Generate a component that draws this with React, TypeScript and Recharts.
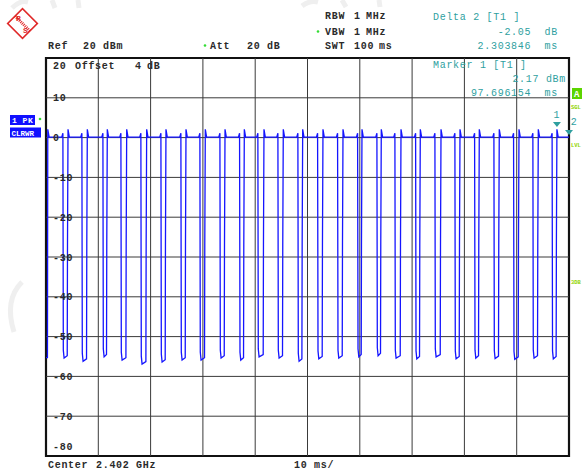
import React from 'react';
import { LineChart, Line, XAxis, YAxis, ReferenceArea, ReferenceDot, ReferenceLine } from 'recharts';

// sweep: 0..100 ms, 10 ms/div ; level: -80..20 dBm
const xTicks = [0, 10, 20, 30, 40, 50, 60, 70, 80, 90, 100];
const yTicks = [20, 10, 0, -10, -20, -30, -40, -50, -60, -70, -80];

// burst gaps (ms)
const dipFall = [3.31, 6.94, 10.96, 14.4, 18.22, 22.05, 25.87, 29.5, 33.33, 37.09, 40.59, 44.42, 48.24,
  52.01, 55.83, 59.66, 63.35, 66.79, 70.75, 74.44, 78.26, 82.03, 85.72, 89.48, 93.17, 96.85];
const dipRise = [4.21, 7.9, 11.72, 15.43, 19.25, 22.94, 26.77, 30.46, 34.23, 37.92, 41.68, 45.37, 49.08,
  52.96, 56.79, 60.42, 64.11, 67.88, 71.57, 75.53, 79.16, 82.85, 86.67, 90.44, 94.13, 97.69];
const dipFloor = [-55.4, -56.2, -55.1, -55.9, -56.9, -56.4, -55.9, -55.9, -55.4, -55.9, -55.1, -55.4, -56.2,
  -55.6, -55.4, -55.1, -54.8, -55.4, -55.6, -55.1, -55.6, -55.4, -55.5, -55.7, -55.4, -55.6];

const startLevel = -55.3;
const topLevel = 0.1;
const preBump = 1.1;
const riseSpike = 2.1;
const riseStep = -27;

const marker1 = { t: 97.696154, v: 2.17 };
const marker2 = { t: 100, v: 0.12 };

const trace: { t: number; v: number }[] = [
  { t: 0, v: startLevel },
  { t: 0.28, v: startLevel },
  { t: 0.34, v: riseSpike },
  { t: 0.6, v: topLevel },
];
dipFall.forEach((f, i) => {
  const r = dipRise[i];
  trace.push({ t: f - 0.3, v: topLevel });
  trace.push({ t: f - 0.08, v: preBump });
  trace.push({ t: f, v: dipFloor[i] + 2 });
  trace.push({ t: f + 0.15, v: dipFloor[i] });
  trace.push({ t: r - 0.15, v: dipFloor[i] + 0.6 });
  trace.push({ t: r - 0.1, v: riseStep });
  trace.push({ t: r, v: riseSpike });
  trace.push({ t: r + 0.25, v: topLevel });
});
trace.push({ t: marker2.t, v: marker2.v });

const W = 582;
const H = 470;
const M = { top: 58, right: 13, bottom: 14, left: 46 };
const TXT = '#2a2a2a';
const TEAL = '#2f9f9f';
const GREEN = '#8fd400';
const BLUE = '#1515ff';
const GRID = '#3a3a3a';
const mono: React.CSSProperties = {
  fontFamily: '"Liberation Mono", "DejaVu Sans Mono", monospace',
  fontSize: 10,
  fontWeight: 700,
  letterSpacing: 0.7,
  whiteSpace: 'pre',
};
const side: React.CSSProperties = { ...mono, fontSize: 5.5, letterSpacing: 0 };

function yLabel(p: any, v: number) {
  let dy = 3.5;
  if (v === 20) dy = 11;
  if (v === -80) dy = -6;
  return (
    <text x={p.cx + 7} y={p.cy + dy} fill={TXT} style={mono}>
      {v < 0 ? '-' + Math.abs(v) : String(v)}
    </text>
  );
}

function MarkerShape(props: any) {
  const { cx, cy, label, lx, ly } = props;
  return (
    <g>
      <polygon points={`${cx - 4},${cy - 7} ${cx + 4},${cy - 7} ${cx},${cy - 2}`} fill={TEAL} />
      <text x={cx + lx} y={cy + ly} fill={TEAL} style={{ ...mono, fontWeight: 400 }} textAnchor="middle">
        {label}
      </text>
    </g>
  );
}

export default function App() {
  return (
    <div style={{ position: 'absolute', left: 0, top: 0, width: W, height: H, background: '#fff', overflow: 'hidden' }}>
      <LineChart width={W} height={H} data={trace} margin={M}>
        <XAxis dataKey="t" type="number" domain={[0, 100]} ticks={xTicks} hide allowDataOverflow />
        <YAxis type="number" domain={[-80, 20]} ticks={yTicks} hide allowDataOverflow />
        {xTicks.slice(1, -1).map((t) => (
          <ReferenceLine key={'vx' + t} x={t} stroke={GRID} strokeWidth={1} ifOverflow="visible" />
        ))}
        {yTicks.slice(1, -1).map((v) => (
          <ReferenceLine key={'hy' + v} y={v} stroke={GRID} strokeWidth={1} ifOverflow="visible" />
        ))}
        {yTicks.map((v) => (
          <ReferenceDot key={'ly' + v} x={0} y={v} r={0} ifOverflow="visible" shape={(p: any) => yLabel(p, v)} />
        ))}
        <ReferenceArea x1={0} x2={100} y1={-80} y2={20} fill="none" stroke="#111" strokeWidth={2.2} ifOverflow="visible" />
        <Line type="linear" dataKey="v" stroke={BLUE} strokeWidth={1.3} dot={false} isAnimationActive={false} />
        <ReferenceDot x={marker1.t} y={marker1.v} r={0} ifOverflow="visible"
          shape={(p: any) => <MarkerShape {...p} label="1" lx={0} ly={-11} />} />
        <ReferenceDot x={marker2.t} y={marker2.v} r={0} ifOverflow="visible"
          shape={(p: any) => <MarkerShape {...p} label="2" lx={5} ly={-12} />} />
      </LineChart>

      <svg width={W} height={H} style={{ position: 'absolute', left: 0, top: 0, pointerEvents: 'none' }}>
        {/* faint watermark */}
        <g stroke="#efefef" strokeWidth={5} fill="none">
          <path d="M12 8 Q20 0 28 2" />
          <path d="M52 0 L55 8" />
          <path d="M78 0 L79 8" />
          <path d="M302 6 Q310 0 318 2" />
          <path d="M342 0 L346 7" />
          <path d="M379 0 L380 7" />
          <path d="M22 282 Q4 300 14 332" />
        </g>

        {/* logo */}
        <g transform="translate(22.5 23.5) rotate(45)">
          <rect x={-10.5} y={-10.5} width={21} height={21} fill="#fff" stroke="#e02828" strokeWidth={1.6} />
          <line x1={-10.5} y1={0} x2={10.5} y2={0} stroke="#e02828" strokeWidth={3} strokeDasharray="1 1" />
        </g>
        <text x={16} y={21} fill="#e02828" style={{ ...mono, fontSize: 8, letterSpacing: 0 }}>R</text>
        <text x={23} y={33} fill="#e02828" style={{ ...mono, fontSize: 8, letterSpacing: 0 }}>S</text>

        {/* header */}
        <text x={48} y={48.5} fill={TXT} style={mono}>Ref</text>
        <text x={83} y={48.5} fill={TXT} style={mono}>20</text>
        <text x={103} y={48.5} fill={TXT} style={mono}>dBm</text>
        <circle cx={205} cy={45.5} r={1.3} fill="#33dd33" />
        <text x={210} y={48.5} fill={TXT} style={mono}>Att</text>
        <text x={247} y={48.5} fill={TXT} style={mono}>20</text>
        <text x={267} y={48.5} fill={TXT} style={mono}>dB</text>

        <text x={325} y={19} fill={TXT} style={mono}>RBW</text>
        <text x={354} y={19} fill={TXT} style={mono}>1</text>
        <text x={366} y={19} fill={TXT} style={mono}>MHz</text>
        <circle cx={318} cy={31.5} r={1.3} fill="#33dd33" />
        <text x={325} y={34.5} fill={TXT} style={mono}>VBW</text>
        <text x={354} y={34.5} fill={TXT} style={mono}>1</text>
        <text x={366} y={34.5} fill={TXT} style={mono}>MHz</text>
        <text x={325} y={48.5} fill={TXT} style={mono}>SWT</text>
        <text x={354} y={48.5} fill={TXT} style={mono}>100</text>
        <text x={379} y={48.5} fill={TXT} style={mono}>ms</text>

        <text x={433} y={20} fill={TEAL} style={{ ...mono, fontWeight: 400 }}>Delta 2 [T1 ]</text>
        <text x={558} y={34.5} fill={TEAL} style={{ ...mono, fontWeight: 400 }} textAnchor="end">-2.05  dB</text>
        <text x={558} y={48.5} fill={TEAL} style={{ ...mono, fontWeight: 400 }} textAnchor="end">2.303846  ms</text>

        <text x={433} y={67.5} fill={TEAL} style={{ ...mono, fontWeight: 400 }}>Marker 1 [T1 ]</text>
        <text x={566} y={82} fill={TEAL} style={{ ...mono, fontWeight: 400 }} textAnchor="end">2.17 dBm</text>
        <text x={558} y={95.5} fill={TEAL} style={{ ...mono, fontWeight: 400 }} textAnchor="end">97.696154  ms</text>

        <text x={75} y={69} fill={TXT} style={mono}>Offset</text>
        <text x={135} y={69} fill={TXT} style={mono}>4</text>
        <text x={147} y={69} fill={TXT} style={mono}>dB</text>

        {/* trace info boxes */}
        <rect x={10} y={115} width={25} height={10} fill="#1010ff" />
        <text x={12} y={123} fill="#fff" style={{ ...mono, fontSize: 8, letterSpacing: 0.5 }}>1 PK</text>
        <circle cx={40} cy={119} r={1.3} fill="#33dd33" />
        <rect x={10} y={127.5} width={31} height={10} fill="#1010ff" />
        <text x={11.5} y={135.5} fill="#fff" style={{ ...mono, fontSize: 7.5, letterSpacing: 0 }}>CLRWR</text>

        {/* right side status */}
        <rect x={572} y={88} width={10} height={11} fill="#5cd400" />
        <text x={574} y={97} fill="#fff" style={{ ...mono, fontSize: 9 }}>A</text>
        <text x={571} y={109} fill={GREEN} style={side}>SGL</text>
        <text x={571} y={147} fill={GREEN} style={side}>LVL</text>
        <text x={571} y={284} fill={GREEN} style={side}>3DB</text>

        {/* footer */}
        <text x={48} y={468} fill={TXT} style={mono}>Center</text>
        <text x={96} y={468} fill={TXT} style={mono}>2.402</text>
        <text x={136} y={468} fill={TXT} style={mono}>GHz</text>
        <text x={294} y={468} fill={TXT} style={mono}>10 ms/</text>
      </svg>
    </div>
  );
}
